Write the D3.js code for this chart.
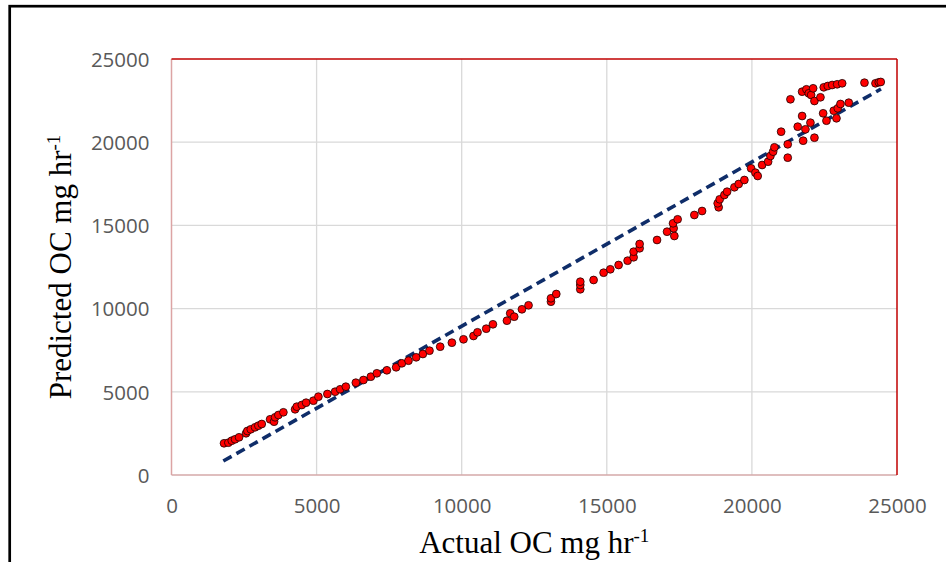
<!DOCTYPE html>
<html>
<head>
<meta charset="utf-8">
<script src="https://cdn.jsdelivr.net/npm/d3@7"></script>
<style>
  html, body { margin: 0; padding: 0; background: #ffffff; }
  svg { display: block; }
</style>
</head>
<body>
<svg id="chart" width="946" height="562"></svg>
<script>
// ---- data ----
const actualOC = [
  1810, 1959, 2076, 2190, 2328, 2569, 2614, 2731, 2879, 2993,
  3110, 3397, 3534, 3569, 3683, 3855, 4259, 4317, 4490, 4638,
  4890, 5062, 5372, 5638, 5810, 6007, 6352, 6614, 6869, 7076,
  7421, 7741, 7938, 8166, 8431, 8662, 8890, 9259, 9662, 10062,
  10407, 10545, 10845, 11076, 11559, 11672, 11810, 12076, 12303, 13076,
  13076, 13259, 14086, 14086, 14086, 14545, 14890, 15121, 15407, 15717,
  15924, 15924, 16131, 16131, 16731, 17076, 17328, 17304, 17283, 17441,
  18017, 18283, 18855, 18821, 18890, 19052, 19145, 19397, 19545, 19741,
  19972, 20121, 20200, 20352, 20559, 20638, 20731, 20776, 21007, 21235,
  21235, 21328, 21579, 21731, 21766, 21845, 22017, 22155, 22455, 22569,
  22821, 22914, 22959, 23052, 23338, 21731, 21879, 21959, 22041, 22110,
  22155, 22362, 22476, 22614, 22766, 22938, 23110, 23879, 24259, 24372,
  24440
];
const predictedOC = [
  1905, 1941, 2061, 2146, 2266, 2506, 2644, 2746, 2867, 2963,
  3065, 3347, 3203, 3468, 3606, 3768, 3948, 4105, 4207, 4345,
  4465, 4706, 4868, 5006, 5150, 5307, 5547, 5709, 5907, 6112,
  6292, 6472, 6713, 6869, 7073, 7272, 7470, 7710, 7951, 8155,
  8353, 8576, 8792, 9057, 9273, 9718, 9513, 9958, 10198, 10415,
  10619, 10877, 11160, 11418, 11617, 11719, 12157, 12362, 12620, 12879,
  13083, 13419, 13624, 13882, 14123, 14621, 14363, 14826, 15126, 15367,
  15625, 15865, 16088, 16328, 16568, 16827, 17025, 17290, 17488, 17728,
  18431, 18167, 17969, 18630, 18828, 19171, 19429, 19694, 20631, 19874,
  19069, 22578, 20932, 21574, 20090, 20775, 21172, 20270, 21737, 21292,
  21893, 21436, 22037, 22296, 22374, 23035, 23179, 22939, 22836, 23239,
  22476, 22698, 23299, 23377, 23437, 23480, 23540, 23576, 23540, 23600,
  23620
];
const trendX = [1786, 24448];
const trendY = [841, 23197];
const xTicks = [0, 5000, 10000, 15000, 20000, 25000];
const yTicks = [0, 5000, 10000, 15000, 20000, 25000];
const xTitle = "Actual OC mg hr";
const yTitle = "Predicted OC mg hr";
const unitSup = "-1";

// ---- layout ----
const svg = d3.select("#chart");
const plot = { left: 171.5, right: 897, top: 59, bottom: 475 };

const x = d3.scaleLinear().domain([0, 25000]).range([plot.left, plot.right]);
const y = d3.scaleLinear().domain([0, 25000]).range([plot.bottom, plot.top]);

// outer border
svg.append("rect")
  .attr("x", 9.7).attr("y", 6.2)
  .attr("width", 960).attr("height", 600)
  .attr("fill", "none").attr("stroke", "#000").attr("stroke-width", 2.7);

// gridlines
const grid = svg.append("g");
grid.selectAll(".vg").data(xTicks.filter(d => d > 0 && d < 25000)).join("line")
  .attr("x1", d => x(d)).attr("x2", d => x(d))
  .attr("y1", plot.top).attr("y2", plot.bottom)
  .attr("stroke", "#d9d9d9").attr("stroke-width", 1.3);
grid.selectAll(".hg").data(yTicks.filter(d => d > 0 && d < 25000)).join("line")
  .attr("x1", plot.left).attr("x2", plot.right)
  .attr("y1", d => y(d)).attr("y2", d => y(d))
  .attr("stroke", "#d9d9d9").attr("stroke-width", 1.3);

// plot border
svg.append("line").attr("x1", plot.left).attr("x2", plot.left).attr("y1", plot.top).attr("y2", plot.bottom)
  .attr("stroke", "#dca4a4").attr("stroke-width", 1.5);
svg.append("line").attr("x1", plot.left).attr("x2", plot.right).attr("y1", plot.bottom).attr("y2", plot.bottom)
  .attr("stroke", "#d4a8a8").attr("stroke-width", 1.5);
svg.append("line").attr("x1", plot.left).attr("x2", plot.right).attr("y1", plot.top).attr("y2", plot.top)
  .attr("stroke", "#c00000").attr("stroke-width", 1.5);
svg.append("line").attr("x1", plot.right).attr("x2", plot.right).attr("y1", plot.top).attr("y2", plot.bottom)
  .attr("stroke", "#c00000").attr("stroke-width", 1.5);

// axes
const tickFont = "'Open Sans', sans-serif";
const xAxis = svg.append("g").attr("transform", `translate(0,${plot.bottom + 20})`)
  .call(d3.axisBottom(x).tickValues(xTicks).tickSize(0).tickFormat(d3.format("d")));
xAxis.select(".domain").remove();
xAxis.selectAll("text").attr("font-family", tickFont).attr("font-size", 20.5)
  .attr("fill", "#595959").attr("dy", "0.71em");

const yAxis = svg.append("g").attr("transform", `translate(${plot.left - 22},0)`)
  .call(d3.axisLeft(y).tickValues(yTicks).tickSize(0).tickFormat(d3.format("d")));
yAxis.select(".domain").remove();
yAxis.selectAll("text").attr("font-family", tickFont).attr("font-size", 20.5)
  .attr("fill", "#595959").attr("x", 0).attr("dy", "0.36em");

// trendline
const line = d3.line().x(d => x(d[0])).y(d => y(d[1]));
svg.append("path")
  .datum(trendX.map((v, i) => [v, trendY[i]]))
  .attr("d", line)
  .attr("fill", "none")
  .attr("stroke", "#0f2d69")
  .attr("stroke-width", 3.6)
  .attr("stroke-dasharray", "9.5,5.5");

// points
svg.append("g").selectAll("circle")
  .data(actualOC.map((v, i) => [v, predictedOC[i]]))
  .join("circle")
  .attr("cx", d => x(d[0]))
  .attr("cy", d => y(d[1]))
  .attr("r", 3.9)
  .attr("fill", "#ff0000")
  .attr("stroke", "#1a0000")
  .attr("stroke-width", 0.8);

// axis titles
const titleFont = "'Liberation Serif', 'Times New Roman', serif";
const xt = svg.append("text")
  .attr("x", (plot.left + plot.right) / 2)
  .attr("y", 553)
  .attr("text-anchor", "middle")
  .attr("font-family", titleFont)
  .attr("font-size", 31)
  .attr("fill", "#000");
xt.append("tspan").text(xTitle);
xt.append("tspan").attr("font-size", 19).attr("dy", -11).text(unitSup);

const yt = svg.append("text")
  .attr("transform", `translate(71,${(plot.top + plot.bottom) / 2}) rotate(-90)`)
  .attr("text-anchor", "middle")
  .attr("font-family", titleFont)
  .attr("font-size", 31)
  .attr("fill", "#000");
yt.append("tspan").text(yTitle);
yt.append("tspan").attr("font-size", 19).attr("dy", -11).text(unitSup);
</script>
</body>
</html>
